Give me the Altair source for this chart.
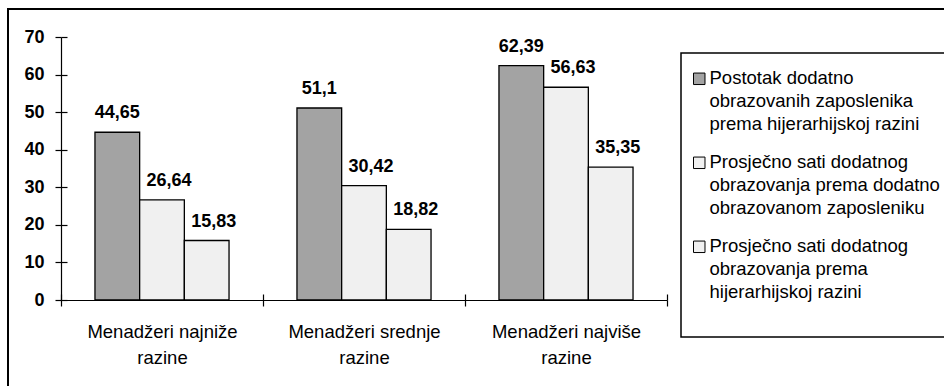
import altair as alt
import pandas as pd

categories = ["Menadžeri najniže\nrazine", "Menadžeri srednje\nrazine", "Menadžeri najviše\nrazine"]
series = [
    "Postotak dodatno\nobrazovanih zaposlenika\nprema hijerarhijskoj razini",
    "Prosječno sati dodatnog\nobrazovanja prema dodatno\nobrazovanom zaposleniku",
    "Prosječno sati dodatnog\nobrazovanja prema\nhijerarhijskoj razini",
]
postotak = [44.65, 51.1, 62.39]
sati_po_zaposleniku = [26.64, 30.42, 56.63]
sati_po_razini = [15.83, 18.82, 35.35]
bar_colors = ["#A3A3A3", "#F0F0F0", "#F0F0F0"]
y_ticks = [0, 10, 20, 30, 40, 50, 60, 70]

rows = []
for i, cat in enumerate(categories):
    for s, vals in zip(series, [postotak, sati_po_zaposleniku, sati_po_razini]):
        v = vals[i]
        rows.append({"kategorija": cat, "serija": s, "vrijednost": v,
                     "oznaka": str(v).replace(".", ",")})
df = pd.DataFrame(rows)

FONT = "Liberation Sans"

x_enc = alt.X("kategorija:N", sort=categories,
              scale=alt.Scale(paddingInner=0, paddingOuter=0),
              axis=alt.Axis(title=None, labelExpr="split(datum.label, '\\n')",
                            labelFont=FONT, labelFontSize=18.5, labelColor="black",
                            labelPadding=16, labelLineHeight=26.5, labelAngle=0,
                            labelOverlap=False,
                            tickBand="extent", tickSize=6, tickColor="black",
                            tickWidth=1.2, domainColor="black", domainWidth=1.2))
xo_enc = alt.XOffset("serija:N", sort=series,
                     scale=alt.Scale(paddingInner=0, paddingOuter=0.76))
y_enc = alt.Y("vrijednost:Q", scale=alt.Scale(domain=[0, 70], nice=False),
              axis=alt.Axis(title=None, values=y_ticks, labelFont=FONT,
                            labelFontSize=18, labelFontWeight="bold",
                            labelColor="black", labelPadding=11, tickSize=6,
                            tickColor="black", tickWidth=1.2, domainColor="black",
                            domainWidth=1.2, grid=False))

bars = alt.Chart(df).mark_bar(stroke="black", strokeWidth=1.3).encode(
    x=x_enc, xOffset=xo_enc, y=y_enc,
    color=alt.Color("serija:N", sort=series,
                    scale=alt.Scale(domain=series, range=bar_colors),
                    legend=alt.Legend(title=None, orient="none", legendX=629, legendY=38,
                                      labelExpr="split(datum.label, '\\n')",
                                      labelFont=FONT, labelFontSize=18.5,
                                      labelColor="black", labelLimit=0,
                                      labelBaseline="alphabetic", labelOffset=1,
                                      symbolType="M-1,-1.95H1V0.05H-1Z",
                                      symbolSize=132, symbolStrokeColor="black",
                                      symbolStrokeWidth=1, symbolOpacity=1,
                                      rowPadding=19, padding=0)),
)

text_common = dict(font=FONT, fontSize=18, fontWeight="bold", baseline="alphabetic",
                   dy=-14, color="black")
labels_a = alt.Chart(df).transform_filter(
    alt.FieldEqualPredicate(field="serija", equal=series[0])
).mark_text(**text_common).encode(
    x=alt.X("kategorija:N", sort=categories, axis=None),
    xOffset=alt.XOffset("serija:N", sort=series),
    y=alt.Y("vrijednost:Q", axis=None),
    text="oznaka:N",
)
labels_bc = alt.Chart(df).transform_filter(
    alt.FieldOneOfPredicate(field="serija", oneOf=series[1:])
).mark_text(dx=7, **text_common).encode(
    x=alt.X("kategorija:N", sort=categories, axis=None),
    xOffset=alt.XOffset("serija:N", sort=series),
    y=alt.Y("vrijednost:Q", axis=None),
    text="oznaka:N",
)

ticks_clone = alt.Chart(df).mark_bar(opacity=0).encode(
    x=alt.X("kategorija:N", sort=categories,
            axis=alt.Axis(orient="top", offset=-263, labels=False, domain=False,
                          tickBand="extent", tickSize=6, tickColor="black",
                          tickWidth=1.2, title=None)),
    y=alt.Y("vrijednost:Q",
            axis=alt.Axis(orient="right", offset=-606, labels=False, domain=False,
                          tickSize=6, tickColor="black", tickWidth=1.2,
                          values=y_ticks, title=None, grid=False)),
)

frame_data = alt.Data(values=[{"f": 1}])
outer = alt.Chart(frame_data).mark_rect(filled=False, stroke="black", strokeWidth=2).encode(
    x=alt.value(-53), x2=alt.value(903), y=alt.value(-28), y2=alt.value(369))
legend_frame = alt.Chart(frame_data).mark_rect(filled=False, stroke="black", strokeWidth=1.5).encode(
    x=alt.value(620), x2=alt.value(903), y=alt.value(16), y2=alt.value(300))

chart = alt.layer(outer, legend_frame, bars, labels_a, labels_bc, ticks_clone).resolve_axis(
    x="independent", y="independent"
).properties(
    width=606, height=263,
    autosize=alt.AutoSizeParams(type="none"),
    padding={"left": 61, "top": 37, "right": 277, "bottom": 86},
    background="white",
).configure(style={"guide-label": {"lineHeight": 23}}).configure_view(strokeWidth=0)

chart.save("out.html", embed_options={"renderer": "svg", "actions": False})
